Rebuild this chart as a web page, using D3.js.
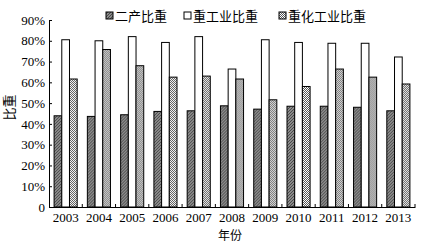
<!DOCTYPE html>
<html>
<head>
<meta charset="utf-8">
<script src="https://cdn.jsdelivr.net/npm/d3@7"></script>
<style>
  body { margin: 0; background: #fff; }
  svg { display: block; }
</style>
</head>
<body>
<div id="chart"></div>
<script>
const years = ["2003", "2004", "2005", "2006", "2007", "2008", "2009", "2010", "2011", "2012", "2013"];
const secondary = [43.9, 43.6, 44.4, 46.0, 46.3, 48.7, 47.1, 48.5, 48.5, 48.0, 46.3];
const heavy = [80.5, 80.0, 82.0, 79.2, 82.0, 66.4, 80.5, 79.2, 78.8, 78.8, 72.2];
const heavyChem = [61.6, 75.8, 68.0, 62.5, 63.0, 61.6, 51.6, 58.0, 66.4, 62.5, 59.2];
const seriesNames = ["二产比重", "重工业比重", "重化工业比重"];
const yTicks = [0, 10, 20, 30, 40, 50, 60, 70, 80, 90];

const W = 431, H = 244;
const margin = {top: 20, right: 16, bottom: 37, left: 49};
const width = W - margin.left - margin.right,
      height = H - margin.top - margin.bottom;

const svg = d3.select("#chart").append("svg")
    .attr("width", W)
    .attr("height", H);

const defs = svg.append("defs");

// dark hatched fill
const p1 = defs.append("pattern")
    .attr("id", "hatch")
    .attr("patternUnits", "userSpaceOnUse")
    .attr("width", 3).attr("height", 3);
p1.append("rect").attr("width", 3).attr("height", 3).attr("fill", "#8a8a8a");
p1.append("path").attr("d", "M0,3 L3,0").attr("stroke", "#4a4a4a").attr("stroke-width", 1);

// checker fill
const p2 = defs.append("pattern")
    .attr("id", "checker")
    .attr("patternUnits", "userSpaceOnUse")
    .attr("width", 2).attr("height", 2);
p2.append("rect").attr("width", 2).attr("height", 2).attr("fill", "#fff");
p2.append("rect").attr("width", 1).attr("height", 1).attr("fill", "#555");
p2.append("rect").attr("x", 1).attr("y", 1).attr("width", 1).attr("height", 1).attr("fill", "#555");

const fills = ["url(#hatch)", "#fff", "url(#checker)"];

const g = svg.append("g")
    .attr("transform", `translate(${margin.left},${margin.top})`);

const x = d3.scaleBand().domain(years).range([0, width]);
const y = d3.scaleLinear().domain([0, 90]).range([height, 0]);
const barW = 7.7;

const data = years.map((yr, i) => ({year: yr, values: [secondary[i], heavy[i], heavyChem[i]]}));

const groups = g.selectAll(".grp")
    .data(data)
    .enter().append("g")
    .attr("class", "grp")
    .attr("transform", d => `translate(${x(d.year) + x.bandwidth() / 2 - barW * 1.5},0)`);

groups.selectAll("rect")
    .data(d => d.values)
    .enter().append("rect")
    .attr("x", (d, i) => i * barW)
    .attr("y", d => y(d))
    .attr("width", barW)
    .attr("height", d => height - y(d))
    .attr("fill", (d, i) => fills[i])
    .attr("stroke", "#000")
    .attr("stroke-width", 1);

// y axis
const yAxis = g.append("g")
    .call(d3.axisLeft(y).tickValues(yTicks).tickSizeInner(-3).tickSizeOuter(0)
        .tickFormat(d => d === 0 ? "0" : d + "%"));
yAxis.select(".domain").attr("stroke", "#000");
yAxis.selectAll("text")
    .attr("x", -4)
    .style("font-family", "'Liberation Serif', serif")
    .style("font-size", "13px")
    .attr("fill", "#000");

// x axis
const xAxis = g.append("g")
    .attr("transform", `translate(0,${height})`)
    .call(d3.axisBottom(x).tickSize(0));
xAxis.select(".domain").attr("stroke", "#000");
xAxis.selectAll("text")
    .attr("dy", "0.95em")
    .attr("y", 3)
    .style("font-family", "'Liberation Serif', serif")
    .style("font-size", "13px")
    .attr("fill", "#000");
g.append("g").selectAll("line")
    .data(years.slice(1).concat(["end"]))
    .enter().append("line")
    .attr("x1", (d, i) => (i + 1) * x.bandwidth())
    .attr("x2", (d, i) => (i + 1) * x.bandwidth())
    .attr("y1", height)
    .attr("y2", height - 3)
    .attr("stroke", "#000");

// axis titles
svg.append("text")
    .attr("transform", `translate(14,${margin.top + height / 2 - 6}) rotate(-90)`)
    .attr("text-anchor", "middle")
    .style("font-family", "'Noto Sans CJK SC', sans-serif")
    .style("font-size", "13px")
    .text("比重");

svg.append("text")
    .attr("x", 230)
    .attr("y", 240)
    .attr("text-anchor", "middle")
    .style("font-family", "'Noto Sans CJK SC', sans-serif")
    .style("font-size", "12px")
    .text("年份");

// legend
const legendX = [106, 184, 279];
const legend = svg.append("g");
seriesNames.forEach((name, i) => {
    legend.append("rect")
        .attr("x", legendX[i])
        .attr("y", 12)
        .attr("width", 7)
        .attr("height", 7)
        .attr("fill", fills[i])
        .attr("stroke", "#000")
        .attr("stroke-width", 1);
    legend.append("text")
        .attr("x", legendX[i] + 9)
        .attr("y", 20.5)
        .style("font-family", "'Noto Sans CJK SC', sans-serif")
        .style("font-size", "13px")
        .text(name);
});
</script>
</body>
</html>
